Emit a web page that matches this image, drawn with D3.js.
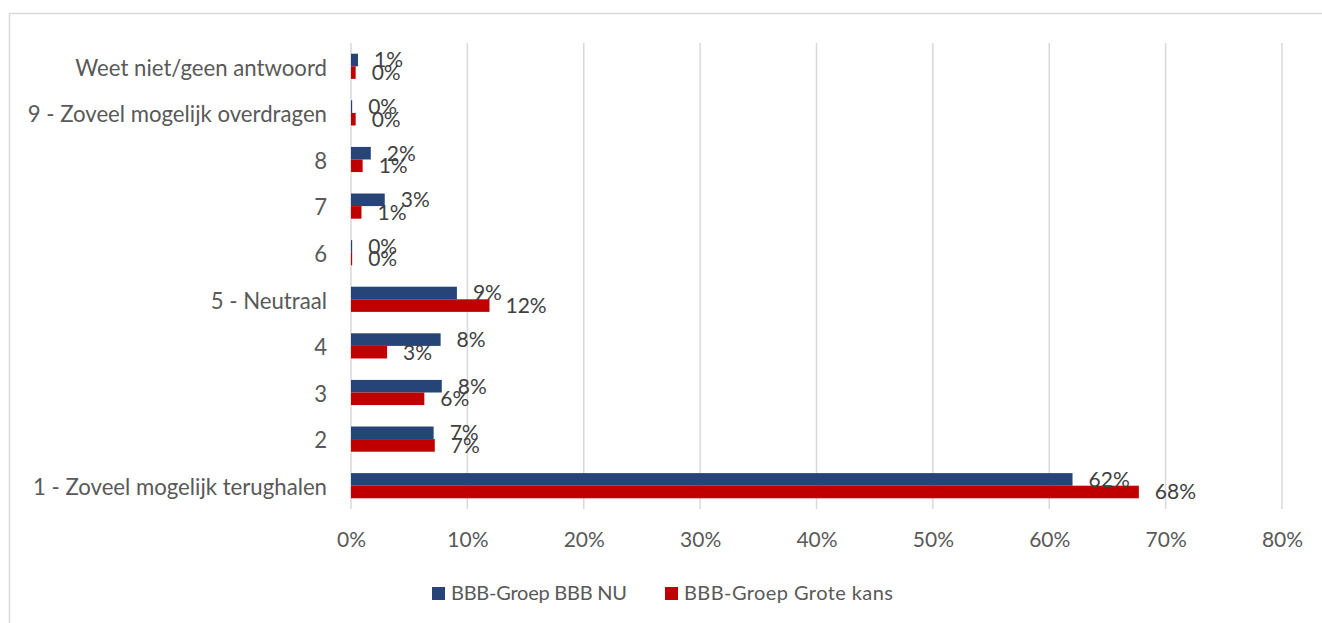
<!DOCTYPE html>
<html>
<head>
<meta charset="utf-8">
<script src="https://cdn.jsdelivr.net/npm/d3@7"></script>
<style>
  body { margin: 0; background: #fff; }
  text { font-family: Lato, "Open Sans", sans-serif; fill: #595959; }
</style>
</head>
<body>
<div id="chart"></div>
<script>
const WIDTH = 1322;
const HEIGHT = 623;

// categorieën van boven naar beneden
const categories = [
  'Weet niet/geen antwoord',
  '9 - Zoveel mogelijk overdragen',
  '8',
  '7',
  '6',
  '5 - Neutraal',
  '4',
  '3',
  '2',
  '1 - Zoveel mogelijk terughalen'
];
const seriesNames = ['BBB-Groep BBB NU', 'BBB-Groep Grote kans'];
const seriesColors = ['#264478', '#C00000'];
const bbbNu     = [0.6, 0.1, 1.7, 2.9, 0.1, 9.1, 7.7, 7.8, 7.1, 62.0];
const groteKans = [0.4, 0.4, 1.0, 0.9, 0.1, 11.9, 3.1, 6.3, 7.2, 67.7];
const ticks = [0, 10, 20, 30, 40, 50, 60, 70, 80];

const margin = {top: 43, left: 351, right: 40, bottom: 114};
const plotW = 1282 - margin.left;
const plotH = 509 - margin.top;

const svg = d3.select('#chart')
  .append('svg')
    .attr('width', WIDTH)
    .attr('height', HEIGHT);

// chartrand
svg.append('rect')
  .attr('x', 9.5).attr('y', 13.5)
  .attr('width', 1330).attr('height', 640)
  .attr('fill', 'none')
  .attr('stroke', '#d9d9d9')
  .attr('stroke-width', 1.5);

const g = svg.append('g')
  .attr('transform', `translate(${margin.left},${margin.top})`);

const x = d3.scaleLinear().domain([0, 80]).range([0, plotW]);
const y = d3.scaleBand().domain(categories).range([0, plotH]).paddingInner(0.46).paddingOuter(0.23);
const ySub = d3.scaleBand().domain([0, 1]).range([0, y.bandwidth()]);

// rasterlijnen
g.selectAll('.grid')
  .data(ticks)
  .join('line')
    .attr('class', 'grid')
    .attr('x1', d => x(d)).attr('x2', d => x(d))
    .attr('y1', 0).attr('y2', plotH)
    .attr('stroke', '#d9d9d9')
    .attr('stroke-width', 1.5);

// x-as labels
const xAxis = d3.axisBottom(x).tickValues(ticks).tickSize(0).tickPadding(23).tickFormat(d => d + '%');
g.append('g')
  .attr('transform', `translate(0,${plotH})`)
  .call(xAxis)
  .call(a => a.select('.domain').remove())
  .selectAll('text')
    .style('font-size', '21px')
    .style('fill', '#595959')
    .style('font-family', 'Lato, sans-serif');

// y-as labels
const yAxis = d3.axisLeft(y).tickSize(0).tickPadding(24);
g.append('g')
  .call(yAxis)
  .call(a => a.select('.domain').remove())
  .selectAll('text')
    .attr('dy', '0.42em')
    .style('font-size', '22.2px')
    .style('fill', '#595959')
    .style('font-family', 'Lato, sans-serif');

const series = [bbbNu, groteKans];
const rows = [];
series.forEach((vals, s) => {
  vals.forEach((v, i) => rows.push({cat: categories[i], s, v}));
});

g.selectAll('.bar')
  .data(rows)
  .join('rect')
    .attr('class', 'bar')
    .attr('x', 0)
    .attr('y', d => y(d.cat) + ySub(d.s))
    .attr('width', d => x(d.v))
    .attr('height', ySub.bandwidth())
    .attr('fill', d => seriesColors[d.s]);

g.selectAll('.lbl')
  .data(rows)
  .join('text')
    .attr('class', 'lbl')
    .attr('x', d => x(d.v) + 16)
    .attr('y', d => y(d.cat) + ySub(d.s) + ySub.bandwidth() / 2)
    .attr('dy', '0.35em')
    .style('font-size', '21px')
    .style('fill', '#404040')
    .text(d => Math.round(d.v) + '%');

// legenda
const legendX = [432, 665];
const legend = svg.selectAll('.legend')
  .data(seriesNames)
  .join('g')
    .attr('class', 'legend')
    .attr('transform', (d, i) => `translate(${legendX[i]},593)`);
legend.append('rect')
  .attr('x', 0).attr('y', -6)
  .attr('width', 13).attr('height', 13)
  .attr('fill', (d, i) => seriesColors[i]);
legend.append('text')
  .attr('x', 19)
  .attr('dy', '0.35em')
  .style('font-size', '20px')
  .text((d, i) => d)
  .attr('textLength', (d, i) => [176, 209][i]);
</script>
</body>
</html>
